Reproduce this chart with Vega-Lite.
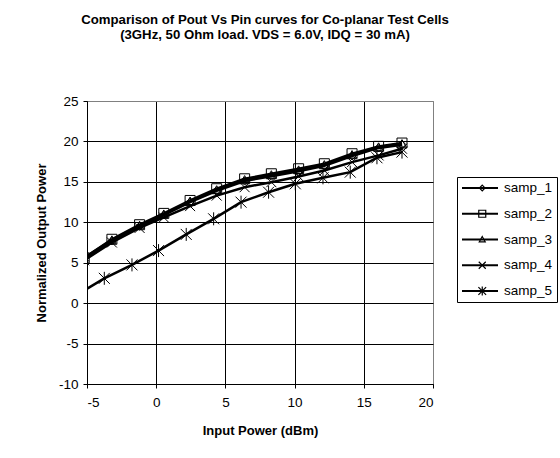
{
  "$schema": "https://vega.github.io/schema/vega-lite/v6.json",
  "autosize": "none",
  "width": 346,
  "height": 283,
  "padding": {"left": 87, "top": 101, "right": 127, "bottom": 74},
  "background": "white",
  "config": {
    "font": "Liberation Sans",
    "view": {"stroke": "#808080", "strokeWidth": 1},
    "axis": {
      "labelFont": "Liberation Sans",
      "labelFontSize": 13.5,
      "labelColor": "black",
      "titleFont": "Liberation Sans",
      "titleFontSize": 13,
      "titleFontWeight": "bold",
      "titleColor": "black",
      "domainColor": "black",
      "tickColor": "black",
      "tickSize": 4,
      "gridOpacity": 1,
      "gridWidth": 1,
      "labelExpr": "'' + datum.value"
    }
  },
  "title": {
    "text": ["Comparison of Pout Vs Pin curves for Co-planar Test Cells", "(3GHz, 50 Ohm load. VDS = 6.0V, IDQ = 30 mA)"],
    "font": "Liberation Sans",
    "fontSize": 13.2,
    "fontWeight": "bold",
    "color": "black",
    "anchor": "middle",
    "dx": 5,
    "offset": 52,
    "lineHeight": 14.5
  },
  "data": {
    "values": [
      {"series": "samp_1", "x": -5.2, "y": 5.5},
      {"series": "samp_1", "x": -3.2, "y": 7.7},
      {"series": "samp_1", "x": -1.2, "y": 9.5},
      {"series": "samp_1", "x": 0.55, "y": 10.9},
      {"series": "samp_1", "x": 2.45, "y": 12.5},
      {"series": "samp_1", "x": 4.37, "y": 13.9},
      {"series": "samp_1", "x": 6.39, "y": 15.1},
      {"series": "samp_1", "x": 8.32, "y": 15.7},
      {"series": "samp_1", "x": 10.29, "y": 16.3},
      {"series": "samp_1", "x": 12.15, "y": 17.0},
      {"series": "samp_1", "x": 14.15, "y": 18.2},
      {"series": "samp_1", "x": 16.07, "y": 19.2},
      {"series": "samp_1", "x": 17.76, "y": 19.6},
      {"series": "samp_2", "x": -5.2, "y": 5.6},
      {"series": "samp_2", "x": -3.2, "y": 7.9},
      {"series": "samp_2", "x": -1.2, "y": 9.7},
      {"series": "samp_2", "x": 0.55, "y": 11.1},
      {"series": "samp_2", "x": 2.45, "y": 12.7},
      {"series": "samp_2", "x": 4.37, "y": 14.15},
      {"series": "samp_2", "x": 6.39, "y": 15.38},
      {"series": "samp_2", "x": 8.32, "y": 16.0},
      {"series": "samp_2", "x": 10.29, "y": 16.62},
      {"series": "samp_2", "x": 12.15, "y": 17.24},
      {"series": "samp_2", "x": 14.15, "y": 18.48},
      {"series": "samp_2", "x": 16.07, "y": 19.39},
      {"series": "samp_2", "x": 17.76, "y": 19.8},
      {"series": "samp_3", "x": -5.2, "y": 5.6},
      {"series": "samp_3", "x": -3.2, "y": 7.8},
      {"series": "samp_3", "x": -1.2, "y": 9.6},
      {"series": "samp_3", "x": 0.55, "y": 11.0},
      {"series": "samp_3", "x": 2.45, "y": 12.6},
      {"series": "samp_3", "x": 4.37, "y": 14.0},
      {"series": "samp_3", "x": 6.39, "y": 15.25},
      {"series": "samp_3", "x": 8.32, "y": 15.85},
      {"series": "samp_3", "x": 10.29, "y": 16.45},
      {"series": "samp_3", "x": 12.15, "y": 17.1},
      {"series": "samp_3", "x": 14.15, "y": 18.35},
      {"series": "samp_3", "x": 16.07, "y": 19.3},
      {"series": "samp_3", "x": 17.76, "y": 19.7},
      {"series": "samp_4", "x": -5.2, "y": 5.3},
      {"series": "samp_4", "x": -3.2, "y": 7.5},
      {"series": "samp_4", "x": -1.2, "y": 9.3},
      {"series": "samp_4", "x": 0.55, "y": 10.6},
      {"series": "samp_4", "x": 2.45, "y": 12.0},
      {"series": "samp_4", "x": 4.37, "y": 13.3},
      {"series": "samp_4", "x": 6.39, "y": 14.34},
      {"series": "samp_4", "x": 8.32, "y": 14.96},
      {"series": "samp_4", "x": 10.29, "y": 15.67},
      {"series": "samp_4", "x": 12.15, "y": 16.4},
      {"series": "samp_4", "x": 14.15, "y": 17.44},
      {"series": "samp_4", "x": 16.07, "y": 18.27},
      {"series": "samp_4", "x": 17.76, "y": 19.1},
      {"series": "samp_5", "x": -5.75, "y": 1.0},
      {"series": "samp_5", "x": -3.75, "y": 3.07},
      {"series": "samp_5", "x": -1.75, "y": 4.73},
      {"series": "samp_5", "x": 0.17, "y": 6.5},
      {"series": "samp_5", "x": 2.17, "y": 8.5},
      {"series": "samp_5", "x": 4.15, "y": 10.43},
      {"series": "samp_5", "x": 6.13, "y": 12.49},
      {"series": "samp_5", "x": 8.12, "y": 13.72},
      {"series": "samp_5", "x": 10.05, "y": 14.76},
      {"series": "samp_5", "x": 12.05, "y": 15.5},
      {"series": "samp_5", "x": 14.02, "y": 16.2},
      {"series": "samp_5", "x": 15.95, "y": 17.98},
      {"series": "samp_5", "x": 17.76, "y": 18.68}
    ]
  },
  "encoding": {
    "x": {
      "field": "x",
      "type": "quantitative",
      "scale": {"domain": [-5, 20], "nice": false, "zero": false},
      "axis": {
        "title": "Input Power (dBm)",
        "values": [-5, 0, 5, 10, 15, 20],
        "grid": true,
        "gridColor": {"condition": {"test": "datum.value == 20", "value": "#808080"}, "value": "black"},
        "labelPadding": 7,
        "titlePadding": 16
      }
    },
    "y": {
      "field": "y",
      "type": "quantitative",
      "scale": {"domain": [-10, 25], "nice": false, "zero": false},
      "axis": {
        "title": "Normalized Output Power",
        "values": [-10, -5, 0, 5, 10, 15, 20, 25],
        "grid": true,
        "gridColor": {"condition": {"test": "datum.value == 25", "value": "#808080"}, "value": "black"},
        "labelPadding": 5,
        "titlePadding": 10
      }
    }
  },
  "layer": [
    {
      "mark": {"type": "line", "strokeWidth": 2.5, "clip": true},
      "encoding": {
        "stroke": {
          "field": "series",
          "type": "nominal",
          "scale": {"range": ["black", "black", "black", "black", "black"]},
          "legend": {
            "title": null,
            "orient": "none",
            "legendX": 370,
            "legendY": 76,
            "strokeColor": "black",
            "padding": 4,
            "symbolType": "stroke",
            "symbolSize": 1296,
            "symbolStrokeWidth": 2,
            "labelOffset": 5,
            "clipHeight": 14,
            "rowPadding": 11.75,
            "labelFont": "Liberation Sans",
            "labelFontSize": 13.5,
            "labelColor": "black"
          }
        }
      }
    },
    {
      "mark": {"type": "point", "filled": false, "color": "black", "strokeWidth": 1, "size": 100, "opacity": 1, "clip": true},
      "encoding": {
        "shape": {
          "field": "series",
          "type": "nominal",
          "scale": {
            "domain": ["samp_1", "samp_2", "samp_3", "samp_4", "samp_5"],
            "range": [
              "M0,-0.8L0.8,0L0,0.8L-0.8,0Z",
              "M-1,-1L1,-1L1,1L-1,1Z",
              "M0,-0.85L0.85,0.65L-0.85,0.65Z",
              "M-1,-1L1,1M-1,1L1,-1",
              "M-1.1,-1.1L1.1,1.1M-1.1,1.1L1.1,-1.1M0,-1.3L0,1.3"
            ]
          },
          "legend": {
            "title": null,
            "orient": "none",
            "legendX": 370,
            "legendY": 76,
            "padding": 4,
            "symbolSize": 49,
            "symbolOffset": 14.5,
            "symbolStrokeColor": "black",
            "symbolFillColor": "transparent",
            "symbolStrokeWidth": 1.2,
            "labelExpr": "''",
            "labelOffset": 5,
            "clipHeight": 14,
            "rowPadding": 11.75,
            "labelFont": "Liberation Sans",
            "labelFontSize": 13.5
          }
        }
      }
    }
  ]
}
